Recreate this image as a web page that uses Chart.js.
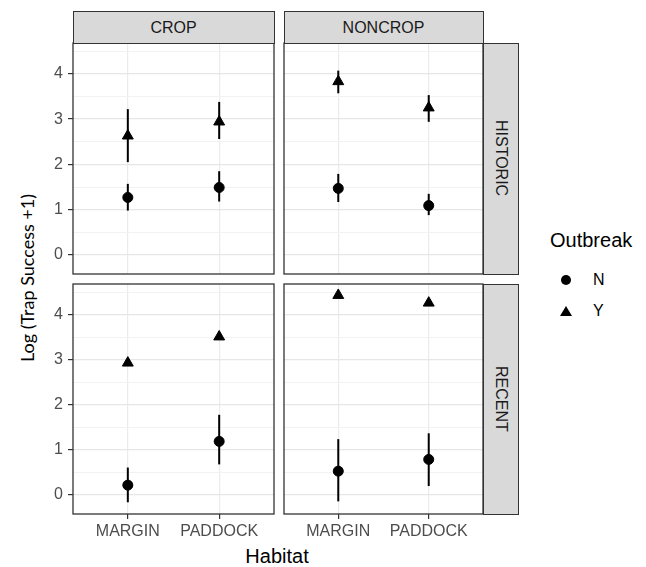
<!DOCTYPE html>
<html>
<head>
<meta charset="utf-8">
<script src="https://cdn.jsdelivr.net/npm/chart.js@4/dist/chart.umd.min.js"></script>
<style>
    body { margin: 0; background: #fff; }
    #fig { position: relative; width: 646px; height: 567px; overflow: hidden; font-family: "Liberation Sans", Arial, sans-serif; }
    #fig canvas { position: absolute; }
    .strip { position: absolute; box-sizing: border-box; background: #d9d9d9; border: 1.3px solid #333; display: flex; align-items: center; justify-content: center; color: #1a1a1a; font-size: 16px; }
    .strip.right { writing-mode: vertical-rl; }
    .txt { position: absolute; white-space: nowrap; }
</style>
</head>
<body>
<div id="fig">
    <div class="txt" id="ytitle" style="left:16px; top:278px; font-family: Lato, sans-serif; font-size:18px; transform: translate(0,-50%) rotate(180deg); writing-mode: vertical-rl;">Log (Trap Success +1)</div>
    <div class="txt" style="left:277px; top:545px; font-size:20px; transform: translateX(-50%);">Habitat</div>
    <div class="txt" style="left:550px; top:229px; font-size:20px;">Outbreak</div>
    <div class="txt" style="left:561px; top:275px; width:10px; height:10px; border-radius:50%; background:#000;"></div>
    <div class="txt" style="left:593px; top:271px; font-size:16px;">N</div>
    <div class="txt" style="left:560px; top:306px; width:0; height:0; border-left:6px solid transparent; border-right:6px solid transparent; border-bottom:10px solid #000;"></div>
    <div class="txt" style="left:593px; top:302px; font-size:16px;">Y</div>
</div>
<script>
    const habitats = ["MARGIN", "PADDOCK"];
    const landUse = ["CROP", "NONCROP"];
    const periods = ["HISTORIC", "RECENT"];
    const yMajor = [0, 1, 2, 3, 4];
    const yMinor = [0.5, 1.5, 2.5, 3.5, 4.5];

    // one row per panel: HISTORIC-CROP, HISTORIC-NONCROP, RECENT-CROP, RECENT-NONCROP
    // each row holds [MARGIN, PADDOCK]
    const meanN = [[1.27, 1.49], [1.47, 1.09], [0.22, 1.19], [0.53, 0.79]];
    const lowN  = [[0.98, 1.18], [1.17, 0.88], [-0.16, 0.68], [-0.14, 0.20]];
    const highN = [[1.57, 1.85], [1.79, 1.35], [0.61, 1.78], [1.24, 1.37]];
    const meanY = [[2.63, 2.94], [3.83, 3.25], [2.93, 3.51], [4.43, 4.26]];
    const lowY  = [[2.05, 2.56], [3.57, 2.94], [null, null], [null, null]];
    const highY = [[3.22, 3.38], [4.07, 3.53], [null, null], [null, null]];

    const fig = document.getElementById("fig");
    const colX = [[73, 274], [284, 483]];
    const rowY = [[43, 274], [284, 514]];
    const PAD = 2;
    const Y_AXIS_W = 33;
    const X_AXIS_H = 30;

    // panel.border from theme_bw
    const panelBorder = {
        id: "panelBorder",
        afterDraw(chart) {
            const { ctx, chartArea: a } = chart;
            ctx.save();
            ctx.strokeStyle = "#333";
            ctx.lineWidth = 1.3;
            ctx.strokeRect(a.left, a.top, a.right - a.left, a.bottom - a.top);
            ctx.restore();
        }
    };

    function errorBars(lows, highs) {
        const sets = [];
        lows.forEach((lo, i) => {
            if (lo === null) return;
            sets.push({
                data: [{ x: i + 1, y: lo }, { x: i + 1, y: highs[i] }],
                showLine: true,
                borderColor: "#000",
                borderWidth: 2,
                pointRadius: 0
            });
        });
        return sets;
    }

    function makePanel(p, r, c) {
        const showY = c === 0;
        const showX = r === 1;
        const left = colX[c][0] - PAD - (showY ? Y_AXIS_W : 0);
        const top = rowY[r][0] - PAD;
        const width = colX[c][1] + PAD - left;
        const height = rowY[r][1] - rowY[r][0] + 2 * PAD + (showX ? X_AXIS_H : 0);

        const canvas = document.createElement("canvas");
        canvas.width = width;
        canvas.height = height;
        canvas.style.left = left + "px";
        canvas.style.top = top + "px";
        fig.appendChild(canvas);

        const pts = vals => vals.map((v, i) => ({ x: i + 1, y: v }));
        const datasets = [
            { data: pts(meanN[p]), pointStyle: "circle", pointRadius: 5, backgroundColor: "#000", borderColor: "#000", borderWidth: 1 },
            { data: pts(meanY[p]), pointStyle: "triangle", pointRadius: 6.3, backgroundColor: "#000", borderColor: "#000", borderWidth: 1 },
            ...errorBars(lowN[p], highN[p]),
            ...errorBars(lowY[p], highY[p])
        ];

        const isMajor = v => yMajor.includes(v);
        const tickFont = { family: "'Liberation Sans', Arial, sans-serif", size: 16 };

        new Chart(canvas, {
            type: "scatter",
            data: { datasets },
            options: {
                responsive: false,
                animation: false,
                devicePixelRatio: 1,
                layout: { padding: PAD, autoPadding: false },
                plugins: { legend: { display: false }, tooltip: { enabled: false } },
                scales: {
                    x: {
                        type: "linear",
                        min: 0.4,
                        max: 2.6,
                        afterBuildTicks: s => { s.ticks = habitats.map((_, i) => ({ value: i + 1 })); },
                        ticks: { display: showX, color: "#4d4d4d", font: tickFont, padding: 3, maxRotation: 0, callback: v => habitats[v - 1] },
                        grid: { color: "#ebebeb", lineWidth: 1.2, drawTicks: showX, tickLength: 5, tickColor: "#333", tickWidth: 1.2 },
                        border: { display: false },
                        afterFit: s => {
                            s.height = showX ? X_AXIS_H : 0;
                            s.paddingLeft = s.paddingRight = s.paddingTop = s.paddingBottom = 0;
                        }
                    },
                    y: {
                        type: "linear",
                        min: -0.42,
                        max: 4.68,
                        afterBuildTicks: s => { s.ticks = [...yMajor, ...yMinor].sort((a, b) => a - b).map(v => ({ value: v })); },
                        ticks: { display: showY, color: "#4d4d4d", font: tickFont, padding: 5, callback: v => isMajor(v) ? String(v) : "" },
                        grid: {
                            color: ctx => isMajor(ctx.tick.value) ? "#e6e6e6" : "#f2f2f2",
                            lineWidth: ctx => isMajor(ctx.tick.value) ? 1.2 : 1,
                            drawTicks: showY,
                            tickLength: 5,
                            tickColor: ctx => isMajor(ctx.tick.value) ? "#333" : "rgba(0,0,0,0)",
                            tickWidth: 1.2
                        },
                        border: { display: false },
                        afterFit: s => {
                            s.width = showY ? Y_AXIS_W : 0;
                            s.paddingLeft = s.paddingRight = s.paddingTop = s.paddingBottom = 0;
                        }
                    }
                }
            },
            plugins: [panelBorder]
        });
    }

    function addStrip(text, x, y, w, h, right) {
        const d = document.createElement("div");
        d.className = "strip" + (right ? " right" : "");
        d.textContent = text;
        Object.assign(d.style, { left: x + "px", top: y + "px", width: w + "px", height: h + "px" });
        fig.appendChild(d);
    }

    periods.forEach((period, r) => {
        landUse.forEach((lu, c) => makePanel(r * 2 + c, r, c));
    });
    landUse.forEach((lu, c) => addStrip(lu, colX[c][0] - 0.5, 11, colX[c][1] - colX[c][0] + 1, 33, false));
    periods.forEach((period, r) => addStrip(period, 482.5, rowY[r][0] - 0.5, 36, rowY[r][1] - rowY[r][0] + 1, true));
</script>
</body>
</html>
